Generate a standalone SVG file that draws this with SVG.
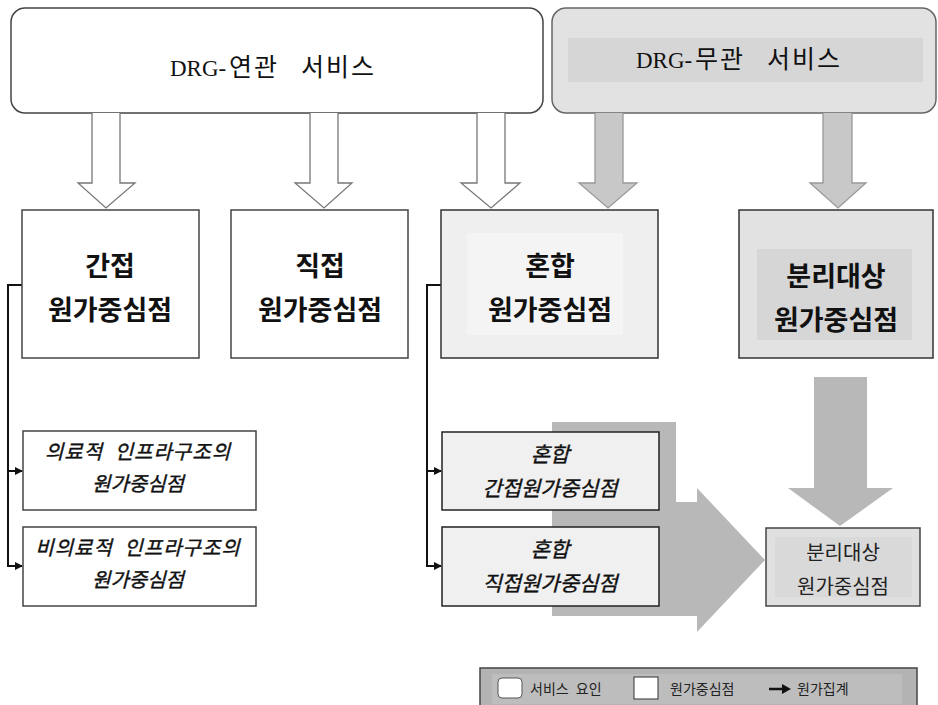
<svg xmlns="http://www.w3.org/2000/svg" width="938" height="705" viewBox="0 0 938 705">
<style>
.lat{font-family:"Liberation Serif",serif;font-size:23px;fill:#111}
.kor{font-family:"Noto Sans CJK KR",sans-serif;font-size:25px;fill:#111;letter-spacing:2px}
.big{font-family:"Noto Sans CJK KR","Liberation Sans",sans-serif;font-size:27px;font-weight:bold;fill:#111}
.it{font-family:"Noto Sans CJK KR","Liberation Sans",sans-serif;font-size:20px;font-style:italic;fill:#111;stroke:#111;stroke-width:0.4}
.nm{font-family:"Noto Sans CJK KR","Liberation Sans",sans-serif;font-size:20px;fill:#222}
.lg{font-family:"Noto Sans CJK KR","Liberation Sans",sans-serif;font-size:14px;fill:#222}
.box{fill:#fff;stroke:#444;stroke-width:1.5}
.hol{fill:#fff;stroke:#777;stroke-width:1.3}
.gar{fill:#c8c8c8;stroke:#999;stroke-width:1.3}
.con{fill:none;stroke:#111;stroke-width:2}
</style>
<defs>
<marker id="ah" markerWidth="8" markerHeight="8" refX="7" refY="4" orient="auto" markerUnits="userSpaceOnUse">
<path d="M0,0 L8,4 L0,8 Z" fill="#111"/>
</marker>
</defs>
<rect width="938" height="705" fill="#fff"/>

<!-- big gray aggregate arrow -->
<g id="agg-arrow">
<path d="M552,422 L676,422 L676,502 L697,502 L697,488 L765,560 L697,632 L697,616 L552,616 Z" fill="#b8b8b8"/>
<path d="M814,377 L867,377 L867,488 L893,488 L840,526 L788,488 L814,488 Z" fill="#b8b8b8"/>
</g>

<g id="drg-related">
<rect x="11" y="8" width="532" height="105" rx="14" class="box" stroke="#666"/>
<text y="76"><tspan x="170" class="lat">DRG-</tspan><tspan x="229" class="kor">연관</tspan><tspan x="301" class="kor">서비스</tspan></text>
</g>
<g id="drg-unrelated">
<rect x="552" y="8" width="384" height="105" rx="14" fill="#e2e2e2" stroke="#666" stroke-width="1.5"/>
<rect x="568" y="38" width="355" height="44" fill="#d6d6d6"/>
<text y="68"><tspan x="636" class="lat">DRG-</tspan><tspan x="695" class="kor">무관</tspan><tspan x="767" class="kor">서비스</tspan></text>
</g>

<g id="connectors">
<path class="hol" d="M92,113 V183 H78 L106,208 L135,183 H120 V113"/>
<path class="hol" d="M310,113 V183 H295 L324,208 L352,183 H338 V113"/>
<path class="hol" d="M477,113 V183 H461 L491,208 L520,183 H505 V113"/>
<path class="gar" d="M595,113 V183 H579 L608,208 L637,183 H623 V113"/>
<path class="gar" d="M823,113 V183 H810 L838,208 L866,183 H852 V113"/>
<path class="con" d="M22,285 H8 V566 H22" marker-end="url(#ah)"/>
<path class="con" d="M8,471 H22" marker-end="url(#ah)"/>
<path class="con" d="M441,285 H427 V566 H441" marker-end="url(#ah)"/>
<path class="con" d="M427,471 H441" marker-end="url(#ah)"/>
</g>

<g id="indirect">
<rect x="22" y="210" width="177" height="148" class="box"/>
<text x="110" y="276" text-anchor="middle" class="big">간접</text>
<text x="110" y="320" text-anchor="middle" class="big">원가중심점</text>
</g>
<g id="direct">
<rect x="231" y="210" width="177" height="148" class="box"/>
<text x="320" y="276" text-anchor="middle" class="big">직접</text>
<text x="320" y="320" text-anchor="middle" class="big">원가중심점</text>
</g>
<g id="mixed">
<rect x="441" y="210" width="217" height="148" fill="#efefef" stroke="#333" stroke-width="1.5"/>
<rect x="467" y="233" width="156" height="102" fill="#f4f4f4"/>
<text x="550" y="276" text-anchor="middle" class="big">혼합</text>
<text x="550" y="320" text-anchor="middle" class="big">원가중심점</text>
</g>
<g id="separate">
<rect x="739" y="210" width="194" height="148" fill="#e2e2e2" stroke="#333" stroke-width="1.5"/>
<rect x="757" y="249" width="155" height="91" fill="#d6d6d6"/>
<text x="836" y="286" text-anchor="middle" class="big">분리대상</text>
<text x="836" y="330" text-anchor="middle" class="big">원가중심점</text>
</g>

<g id="medical-infra">
<rect x="23" y="431" width="233" height="79" class="box"/>
<text x="138" y="459" text-anchor="middle" class="it" style="letter-spacing:1px;word-spacing:6px">의료적 인프라구조의</text>
<text x="138" y="491" text-anchor="middle" class="it">원가중심점</text>
</g>
<g id="nonmedical-infra">
<rect x="23" y="527" width="233" height="79" class="box"/>
<text x="138" y="555" text-anchor="middle" class="it" style="letter-spacing:1px;word-spacing:6px">비의료적 인프라구조의</text>
<text x="138" y="587" text-anchor="middle" class="it">원가중심점</text>
</g>
<g id="mixed-indirect">
<rect x="442" y="432" width="217" height="78" fill="#f0f0f0" stroke="#222" stroke-width="1.5"/>
<text x="550" y="462" text-anchor="middle" class="it" style="font-size:21px">혼합</text>
<text x="550" y="496" text-anchor="middle" class="it" style="font-size:21px">간접원가중심점</text>
</g>
<g id="mixed-direct">
<rect x="442" y="527" width="217" height="79" fill="#f0f0f0" stroke="#222" stroke-width="1.5"/>
<text x="550" y="557" text-anchor="middle" class="it" style="font-size:21px">혼합</text>
<text x="550" y="591" text-anchor="middle" class="it" style="font-size:21px">직접원가중심점</text>
</g>
<g id="separate-target">
<rect x="766" y="528" width="154" height="78" fill="#e0e0e0" stroke="#444" stroke-width="1.5"/>
<rect x="775" y="537" width="137" height="60" fill="#d9d9d9"/>
<text x="843" y="560" text-anchor="middle" class="nm">분리대상</text>
<text x="843" y="594" text-anchor="middle" class="nm">원가중심점</text>
</g>

<g id="legend">
<rect x="480" y="668" width="437" height="40" fill="#b3b3b3" stroke="#444" stroke-width="1.5"/>
<rect x="492" y="674" width="410" height="30" fill="#bdbdbd"/>
<rect x="498" y="678" width="24" height="20" rx="4" fill="#fff" stroke="#555"/>
<text x="530" y="694" class="lg" style="word-spacing:4px">서비스 요인</text>
<rect x="634" y="677" width="24" height="22" fill="#fff" stroke="#333"/>
<text x="670" y="694" class="lg">원가중심점</text>
<path d="M769,689 H783" stroke="#111" stroke-width="2.5"/>
<path d="M782,684 L791,689 L782,694 Z" fill="#111"/>
<text x="797" y="694" class="lg">원가집계</text>
</g>
</svg>
